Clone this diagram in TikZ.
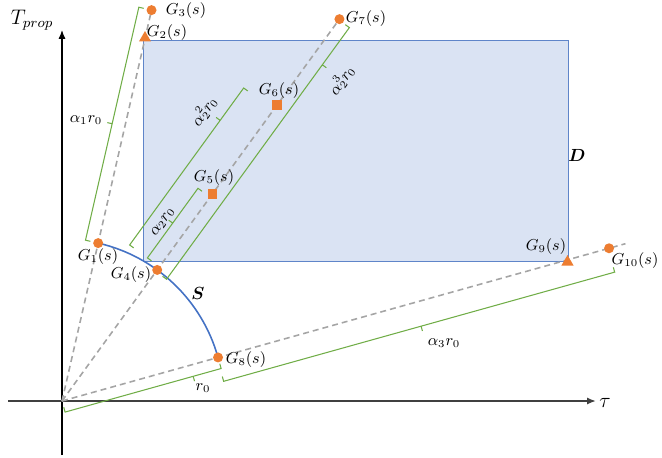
\documentclass[tikz,border=0pt]{standalone}
\usepackage{amsmath}
\usepackage{bm}
\usepackage{tikz}
\usetikzlibrary{arrows.meta,shapes.geometric}
\definecolor{markorange}{HTML}{ED7D31}
\definecolor{brkgreen}{HTML}{70AD47}
\definecolor{curveblue}{HTML}{4472C4}
\definecolor{regionedge}{HTML}{5F85C9}
\definecolor{regionfill}{HTML}{DAE3F3}
\definecolor{raygray}{HTML}{A5A5A5}
\definecolor{axisgray}{HTML}{404040}
% angle, start, end, offset, tick, middle tick
\newcommand{\Bracket}[6]{%
  \draw[bracket, rotate=#1] (#2,{#4+(#5)}) -- (#2,#4) -- (#3,#4) -- (#3,{#4+(#5)})
    (#6,#4) -- (#6,{#4-(#5)});}

\begin{document}
\begin{tikzpicture}[x=0.02cm, y=0.02cm,
    dot/.style={circle, fill=markorange, inner sep=0pt, minimum size=0.2cm},
    sqmark/.style={rectangle, fill=markorange, inner sep=0pt, minimum size=0.19cm},
    trimark/.style={regular polygon, regular polygon sides=3, fill=markorange, inner sep=0pt, minimum size=0.28cm},
    lbl/.style={font=\small, inner sep=1pt},
    ray/.style={raygray, line width=0.9pt, dash pattern=on 3.4pt off 2.3pt},
    bracket/.style={brkgreen, line width=0.6pt},
    arrow/.style={-{Latex[length=5pt, width=4pt]}}]

    \useasboundingbox (-62,-56) rectangle (600,401);

    % Region D
    \coordinate (Dsw) at (81,140);
    \coordinate (Dne) at (506,361);
    \draw[regionedge, fill=regionfill, line width=0.5pt] (Dsw) rectangle (Dne);

    % Axes
    \coordinate (O) at (0,0);
    \coordinate (xa) at (-54,0);
    \coordinate (xb) at (534,0);
    \coordinate (ya) at (0,-54);
    \coordinate (yb) at (0,371);
    \draw[arrow, line width=0.7pt] (ya) -- (yb);
    \draw[arrow, axisgray, line width=1.1pt] (xa) -- (xb);

    % Rays
    \coordinate (e1) at (77.1:401);
    \coordinate (e2) at (54:472);
    \coordinate (e3) at (15.6:585);
    \draw[ray] (O) -- (e1);
    \draw[ray] (O) -- (e2);
    \draw[ray] (O) -- (e3);

    % Curve S
    \coordinate (s1) at (77.1:162);
    \draw[curveblue, line width=0.9pt] (s1) arc[start angle=77.1, end angle=15.6, radius=162];

    % Brackets
    \Bracket{77.1}{162}{401}{13}{-5}{281.5}
    \Bracket{54}{166}{252}{15}{-5}{209}
    \Bracket{54}{166}{360}{37}{-5}{320}
    \Bracket{54}{160}{471}{-13}{5}{425}
    \Bracket{15.6}{0}{162}{-11.5}{5}{133}
    \Bracket{15.6}{161}{567}{-24.5}{5}{366}

    % Points
    \node[dot] (G1) at (s1) {};
    \node[trimark] (G2) at (83,363) {};
    \node[dot] (G3) at (e1) {};
    \node[dot] (G4) at (54:162) {};
    \node[sqmark] (G5) at (54:256) {};
    \node[sqmark] (G6) at (54:366) {};
    \node[dot] (G7) at (e2) {};
    \node[dot] (G8) at (15.6:162) {};
    \node[trimark] (G9) at (505.5,139) {};
    \node[dot] (G10) at (15.6:568) {};

    % Point labels
    \node[lbl] (lG1) at (36,144) {$G_1(s)$};
    \node[lbl] (lG2) at (105,368) {$G_2(s)$};
    \node[lbl] (lG3) at (124,390) {$G_3(s)$};
    \node[lbl] (lG4) at (69,126) {$G_4(s)$};
    \node[lbl] (lG5) at (152,223) {$G_5(s)$};
    \node[lbl] (lG6) at (217,310) {$G_6(s)$};
    \node[lbl] (lG7) at (304,382) {$G_7(s)$};
    \node[lbl] (lG8) at (184,41) {$G_8(s)$};
    \node[lbl] (lG9) at (484,154) {$G_9(s)$};
    \node[lbl] (lG10) at (573,140) {$G_{10}(s)$};

    % Bracket labels
    \node[lbl] (la1) at (24,281) {$\alpha_1 r_0$};
    \node[lbl, rotate=54] (la2) at (101,179) {$\alpha_2 r_0$};
    \node[lbl, rotate=54] (la22) at (142,290) {$\alpha_2^2 r_0$};
    \node[lbl, rotate=54] (la23) at (279.5,321) {$\alpha_2^3 r_0$};
    \node[lbl] (lr0) at (141,13) {$r_0$};
    \node[lbl] (la3) at (382,58) {$\alpha_3 r_0$};

    % Axis and set labels
    \node[font=\large] (lT) at (-30,381) {$T_{prop}$};
    \node[font=\large] (ltau) at (543,-2) {$\tau$};
    \node (lD) at (515,246) {$\bm{D}$};
    \node (lS) at (136,108) {$\bm{S}$};

\end{tikzpicture}
\end{document}
